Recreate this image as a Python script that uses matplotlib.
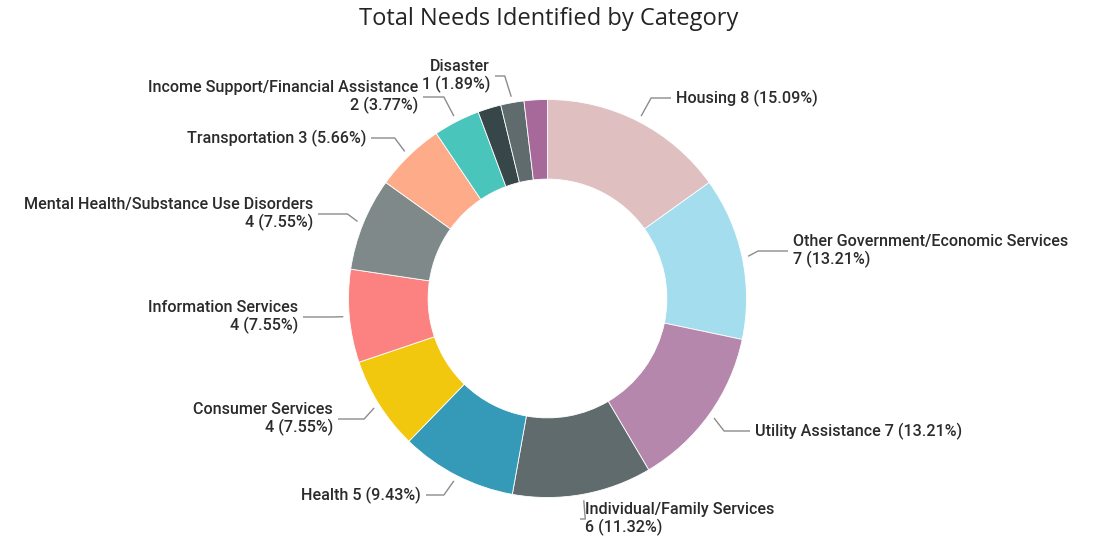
import numpy as np
import matplotlib.pyplot as plt

# needs per category, in slice order (clockwise from 12 o'clock)
categories = [
    "Housing",
    "Other Government/Economic Services",
    "Utility Assistance",
    "Individual/Family Services",
    "Health",
    "Consumer Services",
    "Information Services",
    "Mental Health/Substance Use Disorders",
    "Transportation",
    "Income Support/Financial Assistance",
    "",
    "Disaster",
    "",
]
counts = [8, 7, 7, 6, 5, 4, 4, 4, 3, 2, 1, 1, 1]
colors = [
    "#DFBFBF", "#A4DDEE", "#B687AC", "#5F6B6D", "#3599B8", "#F2C80F",
    "#FB8281", "#7F898A", "#FDAB89", "#4AC5BB", "#374649", "#5F6B6D", "#A66999",
]

# label layout in pixels (x, y from top), alignment, and whether the name wraps
label_layout = {
    0: (676, 98, "left", False),
    1: (793, 251, "left", True),
    2: (755, 431, "left", False),
    3: (585, 519, "left", True),
    4: (421, 495, "right", False),
    5: (333, 419, "right", True),
    6: (298, 317, "right", True),
    7: (313, 214, "right", True),
    8: (366, 138, "right", False),
    9: (418, 97, "right", True),
    11: (490, 76, "right", True),
}

W, H = 1097, 538
CX, CY, R = 547.5, H - 298.5, 199
TEXT = "#2B2B2B"
LINE = "#8C8C8C"

fig = plt.figure(figsize=(W / 100, H / 100), dpi=100)
ax = fig.add_axes([0, 0, 1, 1])

ax.pie(counts, colors=colors, startangle=90, counterclock=False,
       radius=R, center=(CX, CY),
       wedgeprops=dict(width=R * 0.4, edgecolor="white", linewidth=0.6))
ax.set_xlim(0, W)
ax.set_ylim(0, H)
ax.set_aspect("equal")
ax.axis("off")

label_font = ["Roboto", "DejaVu Sans"]
total = sum(counts)
cum = np.cumsum([0] + counts)

for i, (tx, ty, ha, wrap) in label_layout.items():
    pct = counts[i] / total * 100
    value = f"{counts[i]} ({pct:.2f}%)"
    txt = f"{categories[i]}\n{value}" if wrap else f"{categories[i]} {value}"
    ty = H - ty
    ax.text(tx, ty, txt, ha=ha, va="center", multialignment=ha,
            fontsize=11.6, fontweight="medium", color=TEXT,
            family=label_font, linespacing=1.1)

    # leader line: from the slice edge, bend, then run flat into the label
    mid = np.deg2rad((cum[i] + counts[i] / 2) / total * 360)
    sx = CX + (R + 6) * np.sin(mid)
    sy = CY + (R + 6) * np.cos(mid)
    side = 1 if ha == "left" else -1
    ex = tx - side * 5
    bx = sx + side * min(10, abs(ex - sx) * 0.4)
    ax.plot([sx, bx, ex], [sy, ty, ty], color=LINE, lw=1, solid_capstyle="butt")

fig.text(0.5, 1 - 19 / H, "Total Needs Identified by Category", ha="center",
         va="center", fontsize=17, color="#252423",
         family=["Open Sans", "DejaVu Sans"])

fig.savefig("out.png", dpi=100)
